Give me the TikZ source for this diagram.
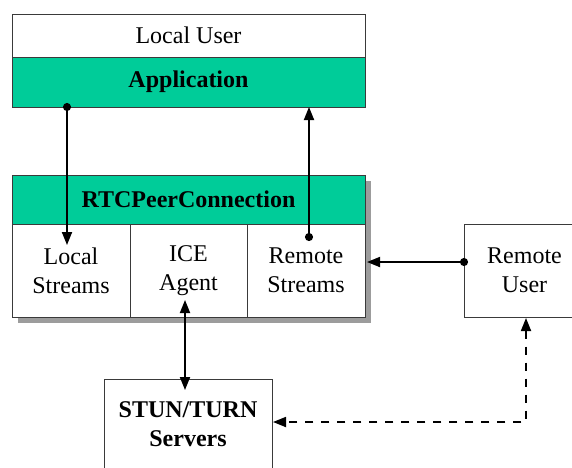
\documentclass[tikz,border=0pt]{standalone}
\usepackage{fontspec}
\setmainfont{Liberation Serif}
\usetikzlibrary{arrows.meta}
\definecolor{panelgreen}{HTML}{00CC99}
\definecolor{edgegray}{HTML}{3A3A3A}
\definecolor{shadowgray}{HTML}{9C9C9C}

\begin{document}
\begin{tikzpicture}[x=1pt,y=1pt,
  font=\fontsize{24}{29}\selectfont,
  box/.style={draw=edgegray, line width=1pt, anchor=north west,
    inner sep=0pt, outer sep=0pt, align=center},
  greenbox/.style={box, fill=panelgreen, font=\fontsize{24}{29}\selectfont\bfseries},
  tip/.tip={Triangle[length=13pt,width=10pt]},
  dot/.tip={Circle[length=8pt]},
  link/.style={line width=1.8pt, -tip},
  dotlink/.style={line width=1.8pt, dot-tip, shorten <=-4pt},
  bothlink/.style={line width=1.8pt, tip-tip},
  dashlink/.style={line width=1.8pt, tip-tip, dash pattern=on 8pt off 8pt}
]
\useasboundingbox (0,0) rectangle (572,-467);
\clip (0,0) rectangle (572,-467);

% local side: user and application
\node[box, minimum width=353pt, minimum height=43pt] (user) at (12,-14) {Local User};
\node[greenbox, minimum width=353pt, minimum height=50pt] (app) at (12,-57) {Application};

% peer connection with drop shadow
\fill[shadowgray] (18,-181) rectangle (371,-323);
\node[greenbox, minimum width=353pt, minimum height=49pt] (rtc) at (12,-175) {RTCPeerConnection};
\node[box, fill=white, minimum width=118pt, minimum height=93pt] (local) at (12,-224) {Local\\Streams};
\node[box, fill=white, minimum width=117pt, minimum height=93pt] (ice) at (130,-224) {ICE\\Agent};
\node[box, fill=white, minimum width=118pt, minimum height=93pt] (remote) at (247,-224) {Remote\\Streams};

% remote peer and relay servers
\node[box, minimum width=121pt, minimum height=93pt] (ruser) at (464,-224) {Remote\\User};
\node[box, minimum width=168pt, minimum height=91pt, font=\fontsize{24}{29}\selectfont\bfseries] (stun) at (104,-379) {STUN/TURN\\Servers};

% connector end points
\coordinate (lsEnd) at (67,-245);
\coordinate (rsStart) at (309,-237);
\coordinate (iceTop) at (185,-300);
\coordinate (stunTop) at (185,-390);
\coordinate (ruDot) at (464,-262);
\coordinate (rsIn) at (367,-262);
\coordinate (ruLow) at (526,-318);
\coordinate (stunIn) at (273,-422);

\draw[dotlink] (app.south -| lsEnd) -- (lsEnd);
\draw[dotlink] (rsStart) -- (rsStart |- app.south);
\draw[bothlink] (iceTop) -- (stunTop);
\draw[dotlink] (ruDot) -- (rsIn);
\draw[dashlink] (ruLow) -- (ruLow |- stunIn) -- (stunIn);
\end{tikzpicture}
\end{document}
